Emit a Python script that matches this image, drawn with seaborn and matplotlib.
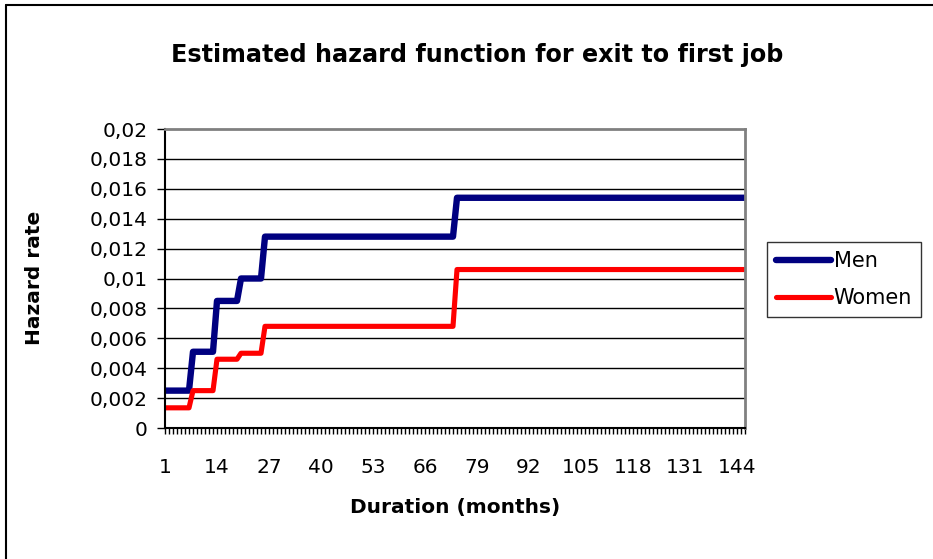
import numpy as np
import pandas as pd
import matplotlib
matplotlib.use("Agg")
import matplotlib.pyplot as plt
import seaborn as sns
from matplotlib.lines import Line2D

# ---- data ----
months = list(range(1, 147))
segment_ends = [7, 13, 19, 25, 73, 146]           # last month of each constant segment
men_levels = [0.0025, 0.0051, 0.0085, 0.0100, 0.0128, 0.0154]
women_levels = [0.00135, 0.0025, 0.0046, 0.0050, 0.0068, 0.0106]
x_tick_labels = [1, 14, 27, 40, 53, 66, 79, 92, 105, 118, 131, 144]
y_ticks = [0, 0.002, 0.004, 0.006, 0.008, 0.010, 0.012, 0.014, 0.016, 0.018, 0.020]
y_tick_labels = ["0", "0,002", "0,004", "0,006", "0,008", "0,01", "0,012",
                 "0,014", "0,016", "0,018", "0,02"]

seg_lengths = np.diff([0] + segment_ends)
men = np.repeat(men_levels, seg_lengths)
women = np.repeat(women_levels, seg_lengths)

df = pd.DataFrame({
    "Duration": months * 2,
    "Hazard": np.concatenate([men, women]),
    "Group": ["Men"] * len(months) + ["Women"] * len(months),
})

sns.set_theme(style="white")
plt.rcParams["font.family"] = ["DejaVu Sans"]
plt.rcParams.update({"text.color": "black", "axes.labelcolor": "black",
                     "xtick.color": "black", "ytick.color": "black"})

fig = plt.figure(figsize=(9.33, 5.59), dpi=100)
ax = fig.add_axes([165 / 933, 1 - 428 / 559, (745 - 165) / 933, (428 - 129) / 559])

sns.lineplot(data=df, x="Duration", y="Hazard", hue="Group",
             palette={"Men": "#000080", "Women": "#FF0000"},
             linewidth=4, ax=ax, legend=False, solid_capstyle="round")
for ln, lw in zip(ax.lines, [4.6, 3.7]):
    ln.set_linewidth(lw)
    ln.set_solid_joinstyle("round")

ax.set_xlim(1, 146)
ax.set_ylim(0, 0.02)
ax.set_xticks(x_tick_labels)
ax.set_xticklabels([str(v) for v in x_tick_labels], fontsize=14.5, color="black")
ax.set_xticks(months, minor=True)
ax.set_yticks(y_ticks)
ax.set_yticklabels(y_tick_labels, fontsize=14.5, color="black")
ax.tick_params(axis="x", which="both", direction="out", color="black",
               length=4.5, width=1, bottom=True, top=False)
ax.tick_params(axis="y", which="both", direction="out", color="black",
               length=5.5, width=1, left=True, right=False)
ax.tick_params(axis="x", which="major", pad=17)
ax.tick_params(axis="y", which="major", pad=7)

ax.grid(False)
for yv in y_ticks[1:-1]:
    ax.axhline(yv, color="black", linewidth=1, zorder=0)

for side in ["left", "bottom"]:
    ax.spines[side].set_color("black")
    ax.spines[side].set_linewidth(1.5)
for side in ["top", "right"]:
    ax.spines[side].set_color("#808080")
    ax.spines[side].set_linewidth(2)
    ax.spines[side].set_visible(True)

ax.set_xlabel("Duration (months)", fontsize=14.5, fontweight="bold", color="black")
ax.set_ylabel("Hazard rate", fontsize=14.5, fontweight="bold", color="black")
ax.xaxis.set_label_coords(0.5, (428 - 507) / 299)
ax.xaxis.label.set_va("center")
ax.yaxis.set_label_coords((35 - 165) / 580, (428 - 278) / 299)
ax.yaxis.label.set_va("center")

fig.text(477 / 933, 1 - 55 / 559, "Estimated hazard function for exit to first job",
         ha="center", va="center", fontsize=17.2, fontweight="bold", color="black")

handles = [Line2D([0], [0], color="#000080", lw=4.6, solid_capstyle="round"),
           Line2D([0], [0], color="#FF0000", lw=3.7, solid_capstyle="round")]
leg = fig.legend(handles, ["Men", "Women"], loc="upper left",
                 bbox_to_anchor=(767 / 933, 1 - 242 / 559), fontsize=15,
                 frameon=True, fancybox=False, handlelength=2.6, handletextpad=0.15,
                 borderpad=0.45, labelspacing=0.8, borderaxespad=0)
leg.get_frame().set_edgecolor("black")
leg.get_frame().set_linewidth(1)
for t in leg.get_texts():
    t.set_color("black")

# outer chart frame (left and top edges visible)
fig.add_artist(Line2D([6 / 933, 6 / 933], [0, 1 - 5 / 559], color="black", lw=1.5,
                      transform=fig.transFigure))
fig.add_artist(Line2D([6 / 933, 1], [1 - 5 / 559, 1 - 5 / 559], color="black", lw=1.5,
                      transform=fig.transFigure))

fig.savefig("out.png", dpi=100)
